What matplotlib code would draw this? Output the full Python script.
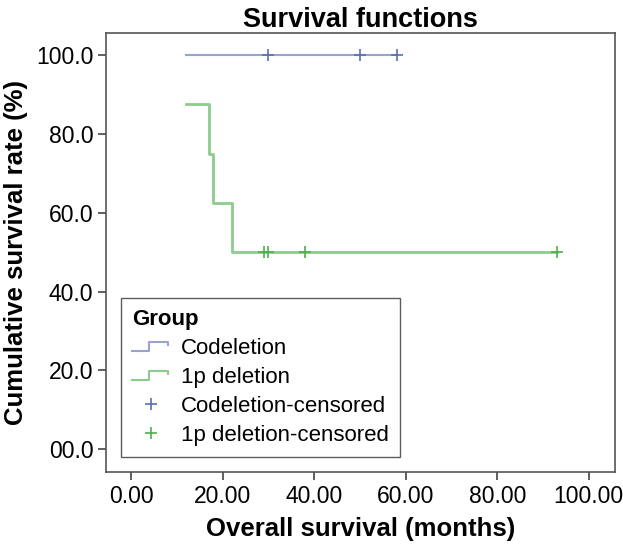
import numpy as np
import matplotlib.pyplot as plt
from matplotlib.legend_handler import HandlerBase
from matplotlib.lines import Line2D

plt.rcParams['font.family'] = ['Liberation Sans', 'DejaVu Sans']

# Kaplan-Meier steps
codel_t = [12, 58]
codel_s = [100.0, 100.0]
codel_cens_t = [30, 50, 58]
codel_cens_s = [100.0, 100.0, 100.0]

del_t = [12, 17, 18, 22, 93]
del_s = [87.5, 75.0, 62.5, 50.0, 50.0]
del_cens_t = [29, 30, 38, 93]
del_cens_s = [50.0, 50.0, 50.0, 50.0]

xticks = [0, 20, 40, 60, 80, 100]
xlabels = ['0.00', '20.00', '40.00', '60.00', '80.00', '100.00']
yticks = [0, 20, 40, 60, 80, 100]
ylabels = ['00.0', '20.0', '40.0', '60.0', '80.0', '100.0']

blue_line = '#9aa3d0'
blue_mark = '#5c6db3'
green_line = '#8ccc8c'
green_mark = '#4fae4f'


class StepHandler(HandlerBase):
    # small step glyph like SPSS legend
    def create_artists(self, legend, orig, xd, yd, w, h, fs, trans):
        xs = [xd, xd + w * 0.45, xd + w * 0.45, xd + w * 0.95, xd + w * 0.95]
        ys = [yd + h * 0.2, yd + h * 0.2, yd + h * 0.8, yd + h * 0.8, yd + h * 0.55]
        ln = Line2D(xs, ys, color=orig.get_color(), lw=1.5, transform=trans)
        return [ln]


fig = plt.figure(figsize=(6.23, 5.46), dpi=100)
ax = fig.add_axes([0.170, 0.1355, 0.817, 0.804])

l1, = ax.step(codel_t, codel_s, where='post', color=blue_line, lw=1.5)
l2, = ax.step(del_t, del_s, where='post', color=green_line, lw=2.0)
m1, = ax.plot(codel_cens_t, codel_cens_s, ls='none', marker='+', ms=8,
              mew=1.2, color=blue_mark)
m2, = ax.plot(del_cens_t, del_cens_s, ls='none', marker='+', ms=8,
              mew=1.2, color=green_mark)

ax.set_xlim(-5.5, 105.7)
ax.set_ylim(-5.8, 105.6)
ax.set_xticks(xticks)
ax.set_xticklabels(xlabels)
ax.set_yticks(yticks)
ax.set_yticklabels(ylabels)
ax.tick_params(labelsize=16.5, length=6, width=1.2, color='#444444', pad=3)
for s in ax.spines.values():
    s.set_color('#555555')
    s.set_linewidth(1.2)

ax.set_title('Survival functions', fontsize=19.5, fontweight='bold', pad=3)
ax.set_xlabel('Overall survival (months)', fontsize=18.5, fontweight='bold', labelpad=7)
ax.set_ylabel('Cumulative survival rate (%)', fontsize=18.5, fontweight='bold', labelpad=6)

leg = ax.legend([l1, l2, m1, m2],
                ['Codeletion', '1p deletion', 'Codeletion-censored', '1p deletion-censored'],
                handler_map={l1: StepHandler(), l2: StepHandler()},
                title='Group', loc='lower left', bbox_to_anchor=(0.0295, 0.034),
                borderaxespad=0,
                fontsize=16, title_fontsize=16, frameon=True, fancybox=False,
                edgecolor='#333333', handlelength=1.7, handletextpad=0.5,
                labelspacing=0.36, borderpad=0.5, alignment='left')
leg.get_title().set_fontweight('bold')
leg.get_frame().set_linewidth(1.0)

plt.savefig('out.png', dpi=100)
